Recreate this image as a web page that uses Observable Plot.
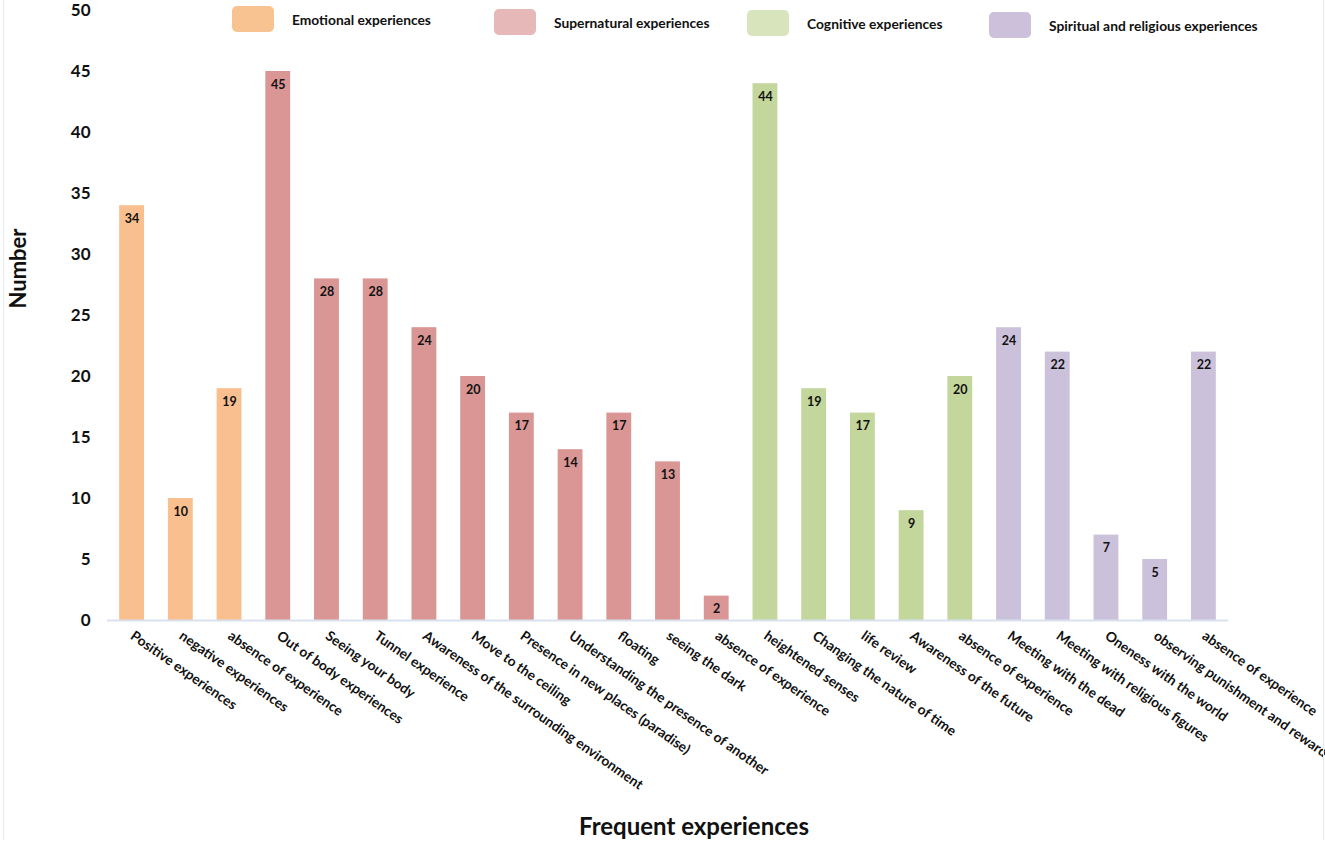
<!DOCTYPE html>
<html>
<head>
<meta charset="utf-8">
<script src="https://cdn.jsdelivr.net/npm/d3@7"></script>
<script src="https://cdn.jsdelivr.net/npm/@observablehq/plot@0.6"></script>
<style>
  html, body { margin: 0; padding: 0; background: #fff; }
  #wrap { position: relative; width: 1325px; height: 841px; font-family: Lato, "Open Sans", sans-serif; }
  #frame { position: absolute; left: 3px; top: 0; width: 1319px; height: 840px; border-left: 1px solid #e3ebf5; border-right: 1px solid #e3ebf5; pointer-events: none; }
  .leg { position: absolute; display: flex; align-items: center; font-weight: 700; font-size: 13.8px; color: #111; }
  .sw { width: 42px; height: 26px; border-radius: 5px; margin-right: 18px; }
</style>
</head>
<body>
<div id="wrap"><div id="chart"></div><div id="frame"></div></div>
<script>
const labels = [
  "Positive experiences", "negative experiences", "absence of experience",
  "Out of body experiences", "Seeing your body", "Tunnel experience",
  "Awareness of the surrounding environment", "Move to the ceiling",
  "Presence in new places (paradise)", "Understanding the presence of another",
  "floating", "seeing the dark", "absence of experience",
  "heightened senses", "Changing the nature of time", "life review",
  "Awareness of the future", "absence of experience",
  "Meeting with the dead", "Meeting with religious figures", "Oneness with the world",
  "observing punishment and reward", "absence of experience"
];
const values = [34, 10, 19, 45, 28, 28, 24, 20, 17, 14, 17, 13, 2, 44, 19, 17, 9, 20, 24, 22, 7, 5, 22];
const groups = [
  "Emotional experiences", "Emotional experiences", "Emotional experiences",
  "Supernatural experiences", "Supernatural experiences", "Supernatural experiences",
  "Supernatural experiences", "Supernatural experiences", "Supernatural experiences",
  "Supernatural experiences", "Supernatural experiences", "Supernatural experiences",
  "Supernatural experiences",
  "Cognitive experiences", "Cognitive experiences", "Cognitive experiences",
  "Cognitive experiences", "Cognitive experiences",
  "Spiritual and religious experiences", "Spiritual and religious experiences",
  "Spiritual and religious experiences", "Spiritual and religious experiences",
  "Spiritual and religious experiences"
];
const groupNames = ["Emotional experiences", "Supernatural experiences", "Cognitive experiences", "Spiritual and religious experiences"];
const barColors = ["#f9bf8f", "#d99694", "#c3d69b", "#ccc1db"];
const legendColors = ["#f9c291", "#e6b8b7", "#d8e4bc", "#ccc0da"];
const yTicks = [0, 5, 10, 15, 20, 25, 30, 35, 40, 45, 50];

const data = labels.map((l, i) => ({ i, label: l, value: values[i], group: groups[i] }));

const chart = Plot.plot({
  width: 1325,
  height: 841,
  marginLeft: 107,
  marginRight: 97,
  marginTop: 10,
  marginBottom: 221,
  style: { fontFamily: "Lato, 'Open Sans', sans-serif", background: "transparent", overflow: "visible" },
  x: { domain: d3.range(labels.length), paddingInner: 0.49, paddingOuter: 0.25, round: false, label: null },
  y: { domain: [0, 50], label: null },
  color: { domain: groupNames, range: barColors },
  marks: [
    Plot.barY(data, { x: "i", y: "value", fill: "group" }),
    Plot.ruleY([0], { stroke: "#d9e1ef", strokeWidth: 2 }),
    Plot.text(data, { x: "i", y: "value", text: d => String(d.value), dy: 13, fontWeight: 700, fontSize: 12.5, fill: "#111" }),
    Plot.axisY({ ticks: yTicks, tickSize: 0, tickPadding: 17, fontSize: 17, fontWeight: 700, fill: "#111", label: null }),
    Plot.axisX({ tickSize: 0, tickPadding: 14, tickRotate: 35, tickFormat: i => labels[i], fontSize: 13.8, fontWeight: 700, fill: "#111", label: null }),
    Plot.text(["Number"], { frameAnchor: "left", textAnchor: "middle", dx: -89, dy: -47, rotate: -90, fontSize: 22, fontWeight: 700, fill: "#111" }),
    Plot.text(["Frequent experiences"], { frameAnchor: "bottom", dy: 214, dx: 26, fontSize: 24, fontWeight: 700, fill: "#111" })
  ]
});
document.getElementById("chart").appendChild(chart);

const legPos = [[232, 6], [494, 9], [747, 10], [989, 12]];
const wrap = document.getElementById("wrap");
groupNames.forEach((g, k) => {
  const el = document.createElement("div");
  el.className = "leg";
  el.style.left = legPos[k][0] + "px";
  el.style.top = legPos[k][1] + "px";
  const sw = document.createElement("div");
  sw.className = "sw";
  sw.style.background = legendColors[k];
  const tx = document.createElement("span");
  tx.textContent = g;
  el.appendChild(sw);
  el.appendChild(tx);
  wrap.appendChild(el);
});
</script>
</body>
</html>
